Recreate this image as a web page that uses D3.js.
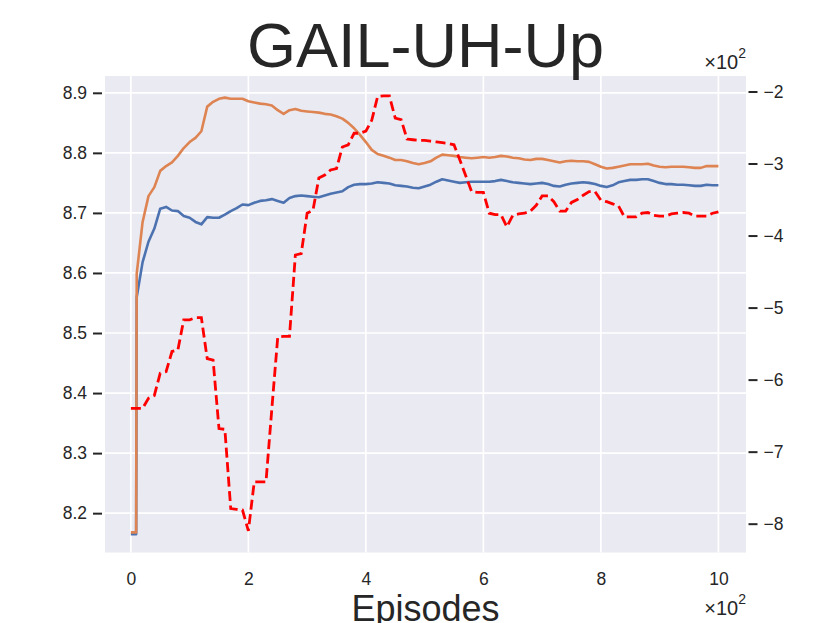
<!DOCTYPE html>
<html><head><meta charset="utf-8">
<script src="https://cdn.jsdelivr.net/npm/d3@7"></script>
<style>
body{margin:0;background:#fff;}
text{font-family:"Liberation Sans",Arial,Helvetica,sans-serif;fill:#262626;}
</style>
</head><body><svg id="c" width="830" height="623"></svg>
<script>
const episodes = [0,9,10,20,30,40,50,60,70,80,90,100,110,120,130,140,150,160,170,180,190,200,210,220,230,240,250,260,270,280,290,300,310,320,330,340,350,360,370,380,390,400,410,420,430,440,450,460,470,480,490,500,510,520,530,540,550,560,570,580,590,600,610,620,630,640,650,660,670,680,690,700,710,720,730,740,750,760,770,780,790,800,810,820,830,840,850,860,870,880,890,900,910,920,930,940,950,960,970,980,990,1000];
const blueSeries = [8.165,8.165,8.560,8.618,8.652,8.674,8.707,8.710,8.704,8.703,8.695,8.692,8.685,8.681,8.693,8.692,8.692,8.697,8.703,8.708,8.714,8.713,8.717,8.720,8.721,8.723,8.720,8.717,8.725,8.728,8.729,8.728,8.727,8.726,8.729,8.732,8.734,8.736,8.743,8.747,8.748,8.748,8.749,8.751,8.750,8.749,8.746,8.745,8.744,8.742,8.741,8.744,8.747,8.752,8.756,8.754,8.752,8.750,8.751,8.752,8.752,8.752,8.752,8.753,8.755,8.753,8.751,8.750,8.749,8.748,8.749,8.750,8.748,8.745,8.744,8.747,8.749,8.750,8.751,8.750,8.748,8.745,8.743,8.746,8.751,8.753,8.755,8.755,8.756,8.756,8.753,8.750,8.748,8.748,8.747,8.747,8.746,8.745,8.745,8.747,8.746,8.746];
const orangeSeries = [8.168,8.168,8.599,8.685,8.728,8.743,8.770,8.778,8.784,8.795,8.808,8.818,8.825,8.836,8.877,8.885,8.890,8.892,8.890,8.890,8.890,8.886,8.884,8.882,8.881,8.879,8.871,8.865,8.871,8.873,8.870,8.869,8.868,8.867,8.865,8.864,8.861,8.857,8.850,8.841,8.830,8.818,8.805,8.798,8.795,8.792,8.788,8.788,8.786,8.783,8.781,8.783,8.786,8.792,8.797,8.796,8.795,8.793,8.792,8.791,8.792,8.793,8.792,8.793,8.795,8.794,8.792,8.791,8.789,8.788,8.790,8.790,8.788,8.786,8.784,8.786,8.787,8.786,8.786,8.785,8.781,8.777,8.774,8.775,8.777,8.779,8.781,8.781,8.781,8.782,8.779,8.777,8.776,8.777,8.777,8.777,8.776,8.775,8.775,8.778,8.778,8.778];
// right axis values, in units of 10^2
const redSeries = [-6.40,-6.40,-6.40,-6.40,-6.26,-6.22,-5.91,-5.89,-5.61,-5.59,-5.17,-5.17,-5.14,-5.14,-5.71,-5.73,-6.68,-6.69,-7.79,-7.80,-7.81,-8.10,-7.42,-7.42,-7.42,-6.40,-5.41,-5.40,-5.40,-4.27,-4.25,-3.69,-3.65,-3.20,-3.16,-3.09,-3.07,-2.77,-2.74,-2.58,-2.58,-2.55,-2.40,-2.07,-2.06,-2.06,-2.37,-2.39,-2.66,-2.67,-2.68,-2.68,-2.69,-2.70,-2.71,-2.72,-2.74,-2.95,-3.17,-3.39,-3.40,-3.40,-3.69,-3.71,-3.71,-3.88,-3.72,-3.70,-3.69,-3.66,-3.58,-3.45,-3.45,-3.53,-3.66,-3.66,-3.54,-3.50,-3.44,-3.39,-3.39,-3.51,-3.53,-3.56,-3.59,-3.74,-3.74,-3.74,-3.69,-3.68,-3.72,-3.73,-3.73,-3.70,-3.69,-3.68,-3.69,-3.73,-3.73,-3.73,-3.69,-3.67];
const leftTickValues = [8.2,8.3,8.4,8.5,8.6,8.7,8.8,8.9];
const rightTickValues = [-8,-7,-6,-5,-4,-3,-2];
const rightTickLabels = ["\u22128","\u22127","\u22126","\u22125","\u22124","\u22123","\u22122"];
const xTickValues = [0,200,400,600,800,1000];
const xTickLabels = ["0","2","4","6","8","10"];
const titleText = "GAIL-UH-Up";
const xLabelText = "Episodes";
const offsetBase = "\u00d710";
const offsetExp = "2";

const svg = d3.select("#c");
const L = 105, R = 746, T = 76, B = 552.5;
const x = d3.scaleLinear().domain([-44, 1047]).range([L, R]);
const yL = d3.scaleLinear().domain([8.1345, 8.928]).range([B, T]);
const yR = d3.scaleLinear().domain([-8.40, -1.785]).range([B, T]);

svg.append("rect").attr("x", L).attr("y", T).attr("width", R - L).attr("height", B - T).attr("fill", "#EAEAF2");

const grid = svg.append("g");
grid.selectAll("line.h").data(leftTickValues).join("line")
  .attr("x1", L).attr("x2", R).attr("y1", d => yL(d)).attr("y2", d => yL(d))
  .attr("stroke", "#fff").attr("stroke-width", 1.7);
grid.selectAll("line.v").data(xTickValues).join("line")
  .attr("y1", T).attr("y2", B).attr("x1", d => x(d)).attr("x2", d => x(d))
  .attr("stroke", "#fff").attr("stroke-width", 1.7);

const gl = svg.append("g").attr("transform", `translate(${L - 3},0)`)
  .call(d3.axisLeft(yL).tickValues(leftTickValues).tickFormat(d3.format(".1f")).tickSize(9).tickPadding(6));
const gr = svg.append("g").attr("transform", `translate(${R + 2.5},0)`)
  .call(d3.axisRight(yR).tickValues(rightTickValues).tickFormat((d, i) => rightTickLabels[i]).tickSize(9).tickPadding(6));
const gb = svg.append("g").attr("transform", `translate(0,${B})`)
  .call(d3.axisBottom(x).tickValues(xTickValues).tickFormat((d, i) => xTickLabels[i]).tickSize(0).tickPadding(20.5));

[gl, gr, gb].forEach(g => {
  g.select(".domain").remove();
  g.selectAll(".tick line").attr("stroke", "#262626").attr("stroke-width", 2);
  g.selectAll(".tick text").attr("font-size", 17.5).attr("fill", "#262626")
    .style("font-family", '"Liberation Sans",Arial,sans-serif');
});

const lineL = d3.line().x((d, i) => x(episodes[i])).y(d => yL(d));
const lineR = d3.line().x((d, i) => x(episodes[i])).y(d => yR(d));
svg.append("path").datum(blueSeries).attr("d", lineL).attr("fill", "none")
  .attr("stroke", "#4C72B0").attr("stroke-width", 2.6).attr("stroke-linejoin", "round");
svg.append("path").datum(orangeSeries).attr("d", lineL).attr("fill", "none")
  .attr("stroke", "#DD8452").attr("stroke-width", 2.6).attr("stroke-linejoin", "round");
svg.append("path").datum(redSeries).attr("d", lineR).attr("fill", "none")
  .attr("stroke", "#FF0000").attr("stroke-width", 2.8).attr("stroke-dasharray", "10,4.5");

svg.append("text").attr("x", (L + R) / 2).attr("y", 67).attr("text-anchor", "middle")
  .attr("font-size", 63).text(titleText);
svg.append("text").attr("x", (L + R) / 2).attr("y", 621).attr("text-anchor", "middle")
  .attr("font-size", 36).text(xLabelText);

function offsetText(xr, yb) {
  const t = svg.append("text").attr("x", xr).attr("y", yb).attr("text-anchor", "end").attr("font-size", 20);
  t.append("tspan").text(offsetBase);
  t.append("tspan").attr("font-size", 14).attr("dy", -11).text(offsetExp);
}
offsetText(R, 69);
offsetText(R, 615);
</script>
</body></html>
